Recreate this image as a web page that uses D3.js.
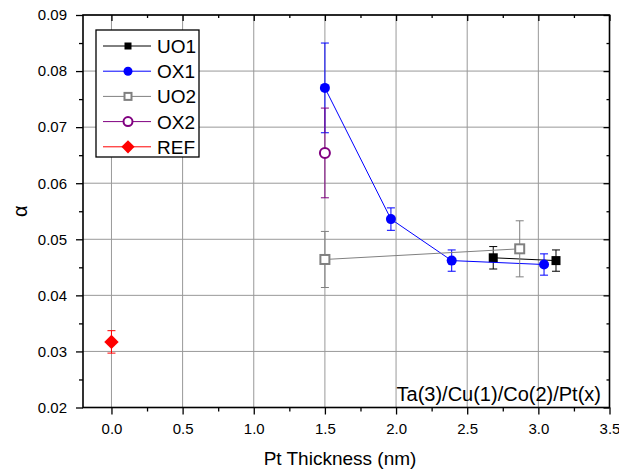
<!DOCTYPE html>
<html><head><meta charset="utf-8">
<script src="https://cdn.jsdelivr.net/npm/d3@7"></script>
<style>body{margin:0;background:#fff}svg{display:block}text{font-family:"Liberation Sans",Arial,sans-serif}</style>
</head><body><svg id="c" width="619" height="471"></svg>
<script>
// Data
const seriesNames = ["UO1","OX1","UO2","OX2","REF"];
const uo1X = [2.683, 3.124], uo1Y = [0.0467, 0.0462], uo1E = [0.0020, 0.0019];
const ox1X = [1.5, 1.964, 2.391, 3.04], ox1Y = [0.0770, 0.0536, 0.0462, 0.0455], ox1E = [0.0080, 0.0020, 0.0019, 0.0019];
const uo2X = [1.5, 2.869], uo2Y = [0.0464, 0.0483], uo2E = [0.0050, 0.0050];
const ox2X = [1.5], ox2Y = [0.0654], ox2E = [0.0080];
const refX = [0.0], refY = [0.0317], refE = [0.0020];
const xTicks = [0,0.5,1,1.5,2,2.5,3,3.5];
const yTicks = [0.02,0.03,0.04,0.05,0.06,0.07,0.08,0.09];
const xLabel = "Pt Thickness (nm)", yLabel = "α", note = "Ta(3)/Cu(1)/Co(2)/Pt(x)";

const series = [
  {name:"UO1", x:uo1X, y:uo1Y, e:uo1E, color:"#000000", shape:"square", fill:true},
  {name:"OX1", x:ox1X, y:ox1Y, e:ox1E, color:"#0000ff", shape:"circle", fill:true},
  {name:"UO2", x:uo2X, y:uo2Y, e:uo2E, color:"#808080", shape:"square", fill:false},
  {name:"OX2", x:ox2X, y:ox2Y, e:ox2E, color:"#800080", shape:"circle", fill:false},
  {name:"REF", x:refX, y:refY, e:refE, color:"#ff0000", shape:"diamond", fill:true}
];

const L=83, R=609.5, T=15, B=407.5;
const x = d3.scaleLinear().domain([-0.2,3.5]).range([L,R]);
const y = d3.scaleLinear().domain([0.02,0.09]).range([B,T]);
const svg = d3.select("#c");

// gridlines
const g = svg.append("g");
g.selectAll(".gx").data(xTicks).join("line").attr("x1",d=>x(d)).attr("x2",d=>x(d)).attr("y1",T).attr("y2",B).attr("stroke","#999").attr("stroke-width",1);
g.selectAll(".gy").data(yTicks).join("line").attr("y1",d=>y(d)).attr("y2",d=>y(d)).attr("x1",L).attr("x2",R).attr("stroke","#999").attr("stroke-width",1);

function marker(sel, s, size){
  if(s.shape==="square"){
    sel.append("rect").attr("x",-size/2).attr("y",-size/2).attr("width",size).attr("height",size)
      .attr("fill",s.fill?s.color:"#fff").attr("stroke",s.color).attr("stroke-width",s.fill?0:2);
  } else if(s.shape==="circle"){
    sel.append("circle").attr("r",size/2).attr("fill",s.fill?s.color:"#fff").attr("stroke",s.color).attr("stroke-width",s.fill?0:2);
  } else {
    const h=size*0.6;
    sel.append("path").attr("d",`M0,${-h}L${h},0L0,${h}L${-h},0Z`).attr("fill",s.color);
  }
}

series.forEach(s=>{
  const pts = s.x.map((v,i)=>({x:v,y:s.y[i],e:s.e[i]}));
  const sg = svg.append("g");
  if(pts.length>1){
    sg.append("path").attr("d",d3.line().x(d=>x(d.x)).y(d=>y(d.y))(pts)).attr("fill","none").attr("stroke",s.color).attr("stroke-width",1);
  }
  pts.forEach(p=>{
    const cx=x(p.x), y1=y(p.y+p.e), y2=y(p.y-p.e);
    sg.append("line").attr("x1",cx).attr("x2",cx).attr("y1",y1).attr("y2",y2).attr("stroke",s.color).attr("stroke-width",1);
    [y1,y2].forEach(yy=>sg.append("line").attr("x1",cx-4).attr("x2",cx+4).attr("y1",yy).attr("y2",yy).attr("stroke",s.color).attr("stroke-width",1));
  });
  pts.forEach(p=>{
    const m = sg.append("g").attr("transform",`translate(${x(p.x)},${y(p.y)})`);
    marker(m, s, s.shape==="circle"?10:(s.shape==="diamond"?12:9));
  });
});

// axes
const xMinor = d3.range(0,3.51,0.25).filter(v=>xTicks.indexOf(v)<0);
const yMinor = d3.range(0.025,0.09,0.01);
const axStyle = a => { a.select(".domain").remove(); a.selectAll("line").attr("stroke","#000").attr("stroke-width",1.3); a.selectAll("text").attr("font-size",15).attr("fill","#000").attr("font-family","Liberation Sans, Arial, sans-serif"); };

const fmtX = d3.format(".1f"), fmtY = d3.format(".2f");
svg.append("g").attr("transform",`translate(0,${B})`).call(d3.axisBottom(x).tickValues(xTicks).tickFormat(fmtX).tickSize(7).tickPadding(9)).call(axStyle);
svg.append("g").attr("transform",`translate(0,${B})`).call(d3.axisBottom(x).tickValues(xMinor).tickFormat("").tickSize(4)).call(axStyle);
svg.append("g").attr("transform",`translate(${L},0)`).call(d3.axisLeft(y).tickValues(yTicks).tickFormat(fmtY).tickSize(7).tickPadding(9)).call(axStyle);
svg.append("g").attr("transform",`translate(${L},0)`).call(d3.axisLeft(y).tickValues(yMinor).tickFormat("").tickSize(4)).call(axStyle);
// top & right inward ticks
svg.append("g").attr("transform",`translate(0,${T})`).call(d3.axisBottom(x).tickValues(xTicks).tickFormat("").tickSize(6)).call(axStyle);
svg.append("g").attr("transform",`translate(0,${T})`).call(d3.axisBottom(x).tickValues(xMinor).tickFormat("").tickSize(3)).call(axStyle);
svg.append("g").attr("transform",`translate(${R},0)`).call(d3.axisLeft(y).tickValues(yTicks).tickFormat("").tickSize(6)).call(axStyle);
svg.append("g").attr("transform",`translate(${R},0)`).call(d3.axisLeft(y).tickValues(yMinor).tickFormat("").tickSize(3)).call(axStyle);
svg.append("rect").attr("x",L).attr("y",T).attr("width",R-L).attr("height",B-T).attr("fill","none").attr("stroke","#000").attr("stroke-width",1.6);

// titles
svg.append("text").attr("x",340).attr("y",465).attr("text-anchor","middle").attr("font-size",19).text(xLabel);
svg.append("text").attr("transform",`translate(27,${(T+B)/2}) rotate(-90)`).attr("text-anchor","middle").attr("font-size",20).text(yLabel);
svg.append("text").attr("x",601).attr("y",401).attr("text-anchor","end").attr("font-size",20).text(note);

// legend
const lg = svg.append("g");
lg.append("rect").attr("x",96).attr("y",30).attr("width",103).attr("height",127).attr("fill","#fff").attr("stroke","#000").attr("stroke-width",1.3);
series.forEach((s,i)=>{
  const yy = 46 + i*25.2;
  lg.append("line").attr("x1",103).attr("x2",151).attr("y1",yy).attr("y2",yy).attr("stroke",s.color).attr("stroke-width",1);
  const m = lg.append("g").attr("transform",`translate(128,${yy})`);
  marker(m, s, s.shape==="circle"?9:(s.shape==="diamond"?11:7));
  lg.append("text").attr("x",157).attr("y",yy+7).attr("font-size",19).text(s.name);
});
</script></body></html>
